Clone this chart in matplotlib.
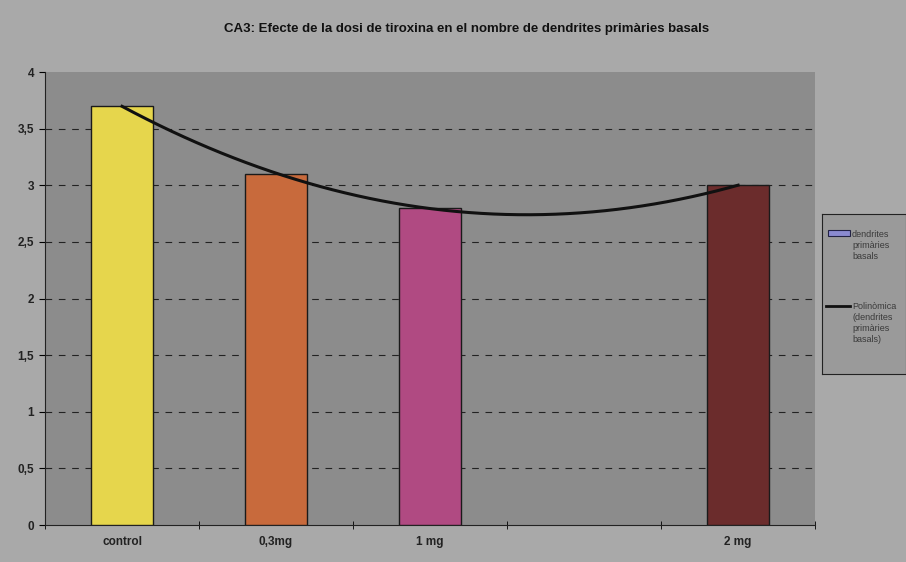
import matplotlib.pyplot as plt
import numpy as np

# data
categories = ['control', '0,3mg', '1 mg', '', '2 mg']
positions = [0, 1, 2, 4]
values = [3.7, 3.1, 2.8, 3.0]
bar_colors = ['#e6d64c', '#c86a3c', '#b04a82', '#6b2c2c']
y_ticks = [0, 0.5, 1, 1.5, 2, 2.5, 3, 3.5, 4]
y_labels = ['0', '0,5', '1', '1,5', '2', '2,5', '3', '3,5', '4']

plt.rcParams['font.family'] = ['Liberation Sans Narrow', 'Liberation Sans', 'DejaVu Sans']

fig = plt.figure(figsize=(9.06, 5.62), dpi=100)
fig.patch.set_facecolor('#a9a9a9')
ax = fig.add_axes([0.0497, 0.0658, 0.85, 0.806])
ax.set_facecolor('#8c8c8c')

ax.bar(positions, values, width=0.4, color=bar_colors, edgecolor='#1a1a1a',
       linewidth=1, zorder=3)

# order 2 polynomial trend line like the spreadsheet one
coef = np.polyfit(positions, values, 2)
xs = np.linspace(positions[0], positions[-1], 200)
ax.plot(xs, np.polyval(coef, xs), color='#111111', linewidth=2.2, zorder=4)

for y in y_ticks[1:-1]:
    ax.axhline(y, color='#222222', linestyle=(0, (6, 6)), linewidth=0.8, zorder=1)

ax.set_xlim(-0.5, 4.5)
ax.set_ylim(0, 4)
ax.set_yticks(y_ticks)
ax.set_yticklabels(y_labels)
ax.set_xticks(range(len(categories)))
ax.set_xticklabels(categories)
ax.set_xticks(np.arange(-0.5, 5, 1), minor=True)
ax.tick_params(axis='x', which='major', length=0, pad=8, labelsize=8.5)
ax.tick_params(axis='x', which='minor', length=6, direction='inout')
ax.tick_params(axis='y', length=4, labelsize=8.5, pad=4)
for lab in ax.get_xticklabels() + ax.get_yticklabels():
    lab.set_fontweight('bold')
    lab.set_color('#222222')
for s in ['top', 'right']:
    ax.spines[s].set_visible(False)
for s in ['left', 'bottom']:
    ax.spines[s].set_color('#222222')

fig.text(0.515, 0.948, 'CA3: Efecte de la dosi de tiroxina en el nombre de dendrites primàries basals',
         ha='center', va='center', fontsize=9.5, fontweight='bold', color='#111111')

# legend box
leg = fig.add_axes([0.907, 0.335, 0.093, 0.285])
leg.set_facecolor('#9a9a9a')
leg.set_xticks([])
leg.set_yticks([])
for s in leg.spines.values():
    s.set_color('#222222')
leg.set_xlim(0, 1)
leg.set_ylim(0, 1)
leg.add_patch(plt.Rectangle((0.08, 0.86), 0.25, 0.04, facecolor='#8a8ad0',
                            edgecolor='#222244', linewidth=0.8))
leg.text(0.36, 0.9, 'dendrites\nprimàries\nbasals', fontsize=6.5, va='top',
         color='#3a3a3a', linespacing=1.3)
leg.plot([0.05, 0.34], [0.42, 0.42], color='#111111', linewidth=2)
leg.text(0.36, 0.45, 'Polinòmica\n(dendrites\nprimàries\nbasals)', fontsize=6.5, va='top',
         color='#3a3a3a', linespacing=1.3)

fig.savefig('out.png', dpi=100, facecolor=fig.get_facecolor())
